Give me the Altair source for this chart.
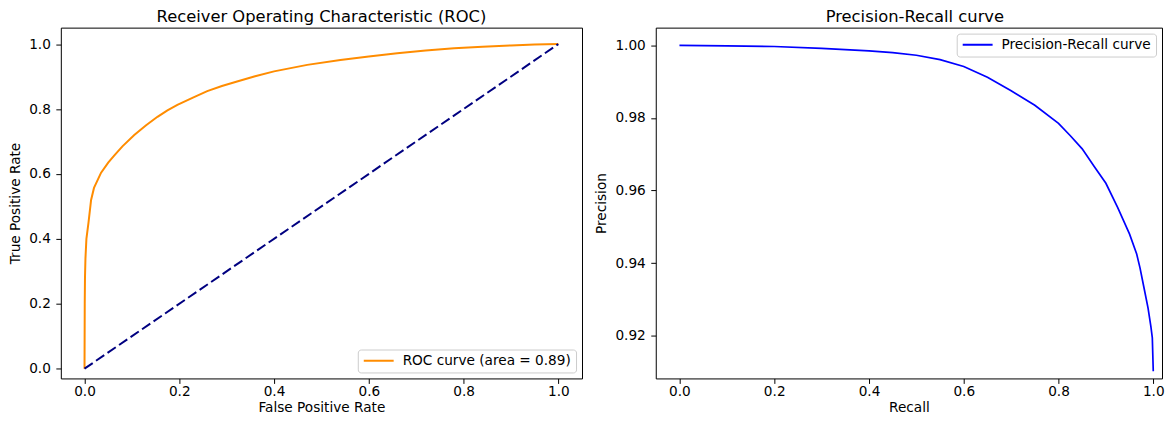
import altair as alt
import pandas as pd

# ---- data ----
roc_fpr = [0.0, 0.0005, 0.001, 0.002, 0.004, 0.0084, 0.0139, 0.02, 0.035, 0.05,
           0.063, 0.08, 0.105, 0.13, 0.154, 0.175, 0.196, 0.23, 0.259, 0.29,
           0.322, 0.36, 0.40, 0.47, 0.54, 0.60, 0.66, 0.72, 0.78, 0.84,
           0.90, 0.95, 1.0]
roc_tpr = [0.0, 0.20, 0.28, 0.34, 0.40, 0.45, 0.52, 0.557, 0.604, 0.635,
           0.657, 0.685, 0.72, 0.75, 0.776, 0.796, 0.813, 0.836, 0.855, 0.871,
           0.885, 0.901, 0.916, 0.936, 0.951, 0.962, 0.972, 0.980, 0.987, 0.992,
           0.996, 0.999, 1.0]
diag_x = [0.0, 1.0]
diag_y = [0.0, 1.0]

pr_recall = [0.0, 0.10, 0.20, 0.30, 0.40, 0.45, 0.50, 0.55, 0.60, 0.65,
             0.70, 0.75, 0.80, 0.825, 0.85, 0.875, 0.90, 0.925, 0.95, 0.965,
             0.972, 0.98, 0.989, 0.995, 0.998, 1.0]
pr_precision = [1.0, 0.9999, 0.9997, 0.9992, 0.9985, 0.9980, 0.9973, 0.9961, 0.9942, 0.9912,
                0.9875, 0.9835, 0.9785, 0.9751, 0.9715, 0.9667, 0.9620, 0.9553, 0.9480, 0.9425,
                0.9387, 0.9335, 0.9276, 0.9225, 0.9194, 0.9102]

roc_label = "ROC curve (area = 0.89)"
pr_label = "Precision-Recall curve"
roc_title = "Receiver Operating Characteristic (ROC)"
pr_title = "Precision-Recall curve"
x_ticks = [0.0, 0.2, 0.4, 0.6, 0.8, 1.0]
roc_y_ticks = [0.0, 0.2, 0.4, 0.6, 0.8, 1.0]
pr_y_ticks = [0.92, 0.94, 0.96, 0.98, 1.00]

FONT = "DejaVu Sans"
LABEL_SIZE = 13.7
TITLE_SIZE = 16.4

# panel geometry (px) – same px-per-unit as the reference, fitted to the page
VIEW_H = 352
LEFT_W = 523
RIGHT_W = 508
X_PX = 523 / 1.1          # px per unit on both x axes
ROC_Y_PX = 325.7          # px per unit, ROC y axis
PR_Y_PX = 3641.0          # px per unit, PR y axis

roc_ymin = -0.03
pr_ymax = 1.0049

roc_df = pd.DataFrame({"fpr": roc_fpr, "tpr": roc_tpr,
                       "i": list(range(len(roc_fpr))), "series": roc_label})
diag_df = pd.DataFrame({"fpr": diag_x, "tpr": diag_y})
pr_df = pd.DataFrame({"recall": pr_recall, "precision": pr_precision,
                      "i": list(range(len(pr_recall))), "series": pr_label})


def legend(orient):
    return alt.Legend(
        title=None, orient=orient, offset=6,
        symbolType="stroke", symbolSize=900, symbolStrokeWidth=2,
        clipHeight=12.3, padding=5, strokeColor="#cccccc", fillColor="white",
        cornerRadius=3, labelFontSize=LABEL_SIZE, labelOffset=8, labelFont=FONT,
        labelColor="black", labelLimit=500,
    )


def title(text, dx=0):
    return alt.TitleParams(text, fontSize=TITLE_SIZE, fontWeight="normal", font=FONT,
                           color="black", offset=2, anchor="middle", dx=dx)


x_roc = alt.X("fpr:Q", title="False Positive Rate",
              scale=alt.Scale(domain=[-0.05, -0.05 + LEFT_W / X_PX], nice=False, zero=False),
              axis=alt.Axis(values=x_ticks, format=".1f"))
y_roc = alt.Y("tpr:Q", title="True Positive Rate",
              scale=alt.Scale(domain=[roc_ymin, roc_ymin + VIEW_H / ROC_Y_PX],
                              nice=False, zero=False),
              axis=alt.Axis(values=roc_y_ticks, format=".1f"))

roc_line = alt.Chart(roc_df).mark_line(strokeWidth=2).encode(
    x=x_roc, y=y_roc, order="i:Q",
    color=alt.Color("series:N",
                    scale=alt.Scale(domain=[roc_label], range=["#ff8c00"]),
                    legend=legend("bottom-right")),
)
diag_line = alt.Chart(diag_df).mark_line(strokeWidth=2, color="#000080",
                                         strokeDash=[10, 4]).encode(x=x_roc, y=y_roc)

left = alt.layer(roc_line, diag_line).properties(
    width=LEFT_W, height=VIEW_H, title=title(roc_title))

pr_line = alt.Chart(pr_df).mark_line(strokeWidth=1.7).encode(
    x=alt.X("recall:Q", title="Recall",
            scale=alt.Scale(domain=[-0.05, -0.05 + RIGHT_W / X_PX], nice=False, zero=False),
            axis=alt.Axis(values=x_ticks, format=".1f")),
    y=alt.Y("precision:Q", title="Precision",
            scale=alt.Scale(domain=[pr_ymax - VIEW_H / PR_Y_PX, pr_ymax],
                            nice=False, zero=False),
            axis=alt.Axis(values=pr_y_ticks, format=".2f")),
    order="i:Q",
    color=alt.Color("series:N",
                    scale=alt.Scale(domain=[pr_label], range=["#0000ff"]),
                    legend=legend("top-right")),
)
right = pr_line.properties(width=RIGHT_W, height=VIEW_H, title=title(pr_title, dx=6))

chart = alt.hconcat(left, right, spacing=11).resolve_scale(
    color="independent", x="independent", y="independent"
).resolve_legend(color="independent").properties(
    padding={"left": 0, "top": 0, "right": 0, "bottom": 0},
    background="white",
).configure_view(
    stroke="black", strokeWidth=1,
).configure_axis(
    grid=False, domain=False,
    labelFont=FONT, labelFontSize=LABEL_SIZE, labelColor="black",
    titleFont=FONT, titleFontSize=LABEL_SIZE, titleFontWeight="normal", titleColor="black",
    tickColor="black", tickSize=5, tickWidth=1,
).configure_axisX(
    labelPadding=1, titlePadding=2.5,
).configure_axisY(
    labelPadding=5.5, titlePadding=6,
)

chart.save("out.html", embed_options={"renderer": "svg", "actions": False})
